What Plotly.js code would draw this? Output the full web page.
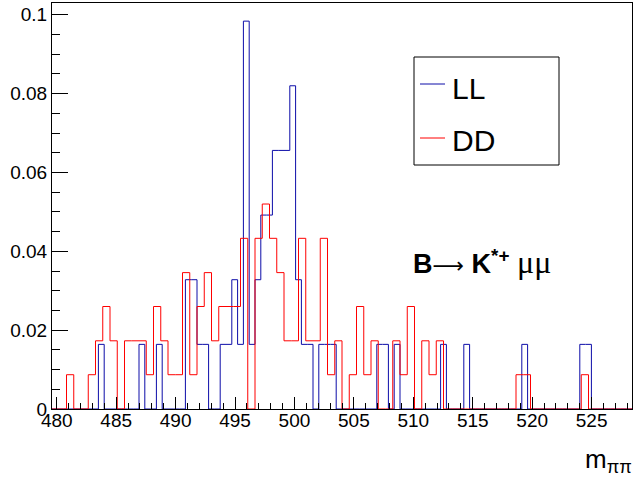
<!DOCTYPE html>
<html>
<head>
<meta charset="utf-8">
<script src="https://cdn.plot.ly/plotly-3.0.1.min.js"></script>
<style>html,body{margin:0;padding:0;background:#fff;}#chart{width:636px;height:480px;}</style>
</head>
<body>
<div id="chart"></div>
<script>
// Histogram binning
const xMin = 479.6;
const xMax = 528.4;
const nBinsLL = 100;
const nBinsDD = 80;

// LL: normalized bin contents (100 bins)
const llValues = [
  0,0,0,0,0,0,0,0,0.0164,0,
  0,0,0,0,0,0.0164,0,0,0.0164,0,
  0,0,0,0.0328,0.0328,0.0164,0.0164,0,0,0.0164,
  0.0164,0.0328,0.0164,0.0984,0.0164,0.0328,0.0492,0.0492,0.0656,0.0656,
  0.0656,0.082,0.0328,0.0164,0.0164,0,0.0164,0.0164,0.0164,0,
  0,0,0,0,0,0,0.0164,0.0164,0,0.0164,
  0,0,0,0,0,0,0,0.0164,0,0,
  0,0.0164,0,0,0,0,0,0,0,0,
  0,0.0164,0,0,0,0,0,0,0,0,
  0,0.0164,0.0164,0,0,0,0,0,0,0
];

// DD: normalized bin contents (80 bins)
const ddValues = [
  0,0,0.0087,0,0,0.0087,0.0173,0.026,0.0173,0,
  0.0173,0.0173,0.0173,0.0087,0.026,0.0173,0.0087,0.0087,0.0346,0.0087,
  0.026,0.0346,0.0173,0.026,0.026,0.026,0.0433,0,0.0433,0.052,
  0.0433,0.0346,0.0173,0.0173,0.0433,0.0173,0.0173,0.0433,0.0087,0.0173,
  0,0.0087,0.026,0.0087,0.0173,0,0,0.0173,0.0087,0.026,
  0,0.0173,0.0087,0.0173,0,0,0,0,0,0,
  0,0,0,0,0.0087,0.0087,0,0,0,0,
  0,0,0,0.0087,0,0,0,0,0,0
];

const seriesNames = ['LL', 'DD'];
const xTickVals = [480, 485, 490, 495, 500, 505, 510, 515, 520, 525];
const yTickVals = [0, 0.02, 0.04, 0.06, 0.08, 0.1];
const yTickText = ['0', '0.02', '0.04', '0.06', '0.08', '0.1'];

function stepXY(vals, n) {
  const w = (xMax - xMin) / n;
  const xs = [], ys = [];
  for (let i = 0; i < n; i++) { xs.push(xMin + i * w); ys.push(vals[i]); }
  xs.push(xMax); ys.push(vals[n - 1]);
  return {x: xs, y: ys};
}

const ll = stepXY(llValues, nBinsLL);
const dd = stepXY(ddValues, nBinsDD);

const blue = '#0c0ca8';
const red = '#ff0000';
const font = 'Liberation Sans, Arial, Helvetica, sans-serif';

const traces = [
  {x: ll.x, y: ll.y, type: 'scatter', mode: 'lines', name: seriesNames[0],
   line: {shape: 'hv', color: blue, width: 1}, showlegend: false, hoverinfo: 'skip'},
  {x: dd.x, y: dd.y, type: 'scatter', mode: 'lines', name: seriesNames[1],
   line: {shape: 'hv', color: red, width: 1}, showlegend: false, hoverinfo: 'skip'}
];

const layout = {
  width: 636, height: 480,
  margin: {l: 52, r: 4, t: 3, b: 71},
  paper_bgcolor: '#ffffff', plot_bgcolor: '#ffffff',
  font: {family: font, color: '#000', size: 19},
  xaxis: {
    range: [xMin, xMax], tickvals: xTickVals, ticks: 'inside', ticklen: 12, tickwidth: 1,
    tickcolor: '#000', showgrid: false, zeroline: false, showline: true, linecolor: '#000',
    linewidth: 1, mirror: true, tickfont: {size: 19, family: font}, ticklabelstandoff: -6,
    minor: {dtick: 1, tick0: 480, ticks: 'inside', ticklen: 6, tickcolor: '#000', showgrid: false}
  },
  yaxis: {
    range: [0, 0.103], tickvals: yTickVals, ticktext: yTickText, ticks: 'inside', ticklen: 16, tickwidth: 1,
    tickcolor: '#000', showgrid: false, zeroline: false, showline: true, linecolor: '#000',
    linewidth: 1, mirror: true, tickfont: {size: 19, family: font},
    minor: {dtick: 0.005, tick0: 0, ticks: 'inside', ticklen: 8, tickcolor: '#000', showgrid: false}
  },
  shapes: [
    {type: 'rect', xref: 'paper', yref: 'paper',
     x0: (414 - 52) / 580, x1: (559 - 52) / 580, y0: (409 - 165) / 406, y1: (409 - 57) / 406,
     line: {color: '#000', width: 1}, fillcolor: 'rgba(255,255,255,1)'},
    {type: 'line', xref: 'paper', yref: 'paper',
     x0: (420 - 52) / 580, x1: (445 - 52) / 580, y0: (409 - 84) / 406, y1: (409 - 84) / 406,
     line: {color: blue, width: 1}},
    {type: 'line', xref: 'paper', yref: 'paper',
     x0: (420 - 52) / 580, x1: (445 - 52) / 580, y0: (409 - 138) / 406, y1: (409 - 138) / 406,
     line: {color: red, width: 1}}
  ],
  annotations: [
    {xref: 'paper', yref: 'paper', x: (450 - 52) / 580, y: (409 - 88) / 406, xanchor: 'left', yanchor: 'middle',
     text: seriesNames[0], showarrow: false, font: {size: 30, family: font, color: '#000'}},
    {xref: 'paper', yref: 'paper', x: (450 - 52) / 580, y: (409 - 140) / 406, xanchor: 'left', yanchor: 'middle',
     text: seriesNames[1], showarrow: false, font: {size: 30, family: font, color: '#000'}},
    {xref: 'paper', yref: 'paper', x: (411 - 52) / 580, y: (409 - 262) / 406, xanchor: 'left', yanchor: 'middle',
     text: '<b>B</b><span style="font-family:DejaVu Sans;font-size:22px">\u27f6</span> <b>K</b><sup><b>*+</b></sup> <span style="font-family:Liberation Serif;font-size:32px">\u03bc\u03bc</span>',
     showarrow: false, font: {size: 27, family: font, color: '#000'}},
    {xref: 'paper', yref: 'paper', x: (634 - 52) / 580, y: (409 - 460) / 406, xanchor: 'right', yanchor: 'middle',
     text: 'm<sub>\u03c0\u03c0</sub>', showarrow: false, font: {size: 26, family: font, color: '#000'}}
  ]
};

Plotly.newPlot('chart', traces, layout, {staticPlot: true, displayModeBar: false});
</script>
</body>
</html>
